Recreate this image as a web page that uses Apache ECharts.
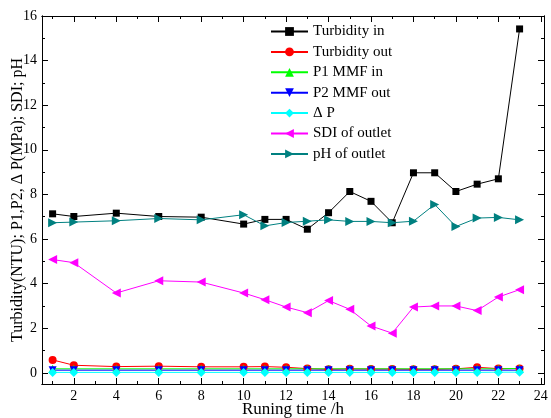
<!DOCTYPE html>
<html><head><meta charset="utf-8">
<script src="https://cdn.jsdelivr.net/npm/echarts@6/dist/echarts.min.js"></script>
<style>html,body{margin:0;padding:0;background:#fff}#c{width:551px;height:418px}</style>
</head><body><div id="c"></div>
<script>
const hours = [1,2,4,6,8,10,11,12,13,14,15,16,17,18,19,20,21,22,23];
const turbidityIn  = [7.13,7.01,7.16,7.01,6.98,6.67,6.88,6.88,6.44,7.18,8.13,7.69,6.73,8.97,8.97,8.13,8.46,8.70,15.42];
const turbidityOut = [0.58,0.34,0.28,0.30,0.27,0.27,0.28,0.25,0.19,0.16,0.18,0.17,0.17,0.16,0.16,0.18,0.25,0.19,0.19];
const p1In   = [0.18,0.18,0.18,0.18,0.18,0.18,0.18,0.18,0.18,0.18,0.18,0.18,0.18,0.18,0.18,0.18,0.18,0.18,0.20];
const p2Out  = [0.12,0.12,0.12,0.12,0.12,0.12,0.12,0.12,0.12,0.12,0.12,0.12,0.12,0.12,0.12,0.12,0.12,0.12,0.12];
const deltaP = [0.02,0.02,0.02,0.02,0.02,0.02,0.02,0.02,0.02,0.02,0.02,0.02,0.02,0.02,0.02,0.02,0.02,0.03,0.03];
const sdi    = [5.08,4.94,3.58,4.13,4.07,3.58,3.28,2.95,2.70,3.24,2.85,2.10,1.78,2.95,3.00,3.00,2.79,3.40,3.73];
const ph     = [6.73,6.76,6.82,6.92,6.86,7.09,6.59,6.74,6.80,6.86,6.79,6.79,6.73,6.80,7.55,6.56,6.94,6.97,6.86];
const xMajor = [2,4,6,8,10,12,14,16,18,20,22,24];
const xMinor = [1,3,5,7,9,11,13,15,17,19,21,23];
const yMajor = [0,2,4,6,8,10,12,14,16];
const yMinor = [1,3,5,7,9,11,13,15];

const FONT = "'Liberation Serif','Times New Roman',serif";
const X = {min:0.5, max:24.15}, Y = {min:-0.5, max:16};
function xa(grid, pos, ticks, len, labels){
  return {type:'value', gridIndex:grid, position:pos, min:X.min, max:X.max, splitLine:{show:false},
    axisLine:{show:true, onZero:false, lineStyle:{color:'#000',width:1}},
    axisTick:{show:true, inside:true, length:len, customValues:ticks, lineStyle:{color:'#000',width:1}},
    axisLabel:{show:labels, customValues:ticks, color:'#000', fontFamily:FONT, fontSize:14, margin:5},
    name: labels ? 'Runing time /h' : '', nameLocation:'middle', nameGap:17, nameMoveOverlap:false,
    nameTextStyle:{color:'#000', fontFamily:FONT, fontSize:17}};
}
function ya(grid, pos, ticks, len, labels){
  return {type:'value', gridIndex:grid, position:pos, min:Y.min, max:Y.max, splitLine:{show:false},
    axisLine:{show:true, onZero:false, lineStyle:{color:'#000',width:1}},
    axisTick:{show:true, inside:true, length:len, customValues:ticks, lineStyle:{color:'#000',width:1}},
    axisLabel:{show:labels, customValues:ticks, color:'#000', fontFamily:FONT, fontSize:14, margin:5},
    name: labels ? 'Turbidity(NTU); P1,P2, \u0394 P(MPa); SDI; pH' : '', nameLocation:'middle', nameGap:16, nameMoveOverlap:false,
    nameTextStyle:{color:'#000', fontFamily:FONT, fontSize:16}};
}
function mk(vals){ return hours.map((h,i)=>[h, vals[i]]); }
const triDown = 'path://M0,0 L10,0 L5,10 Z';
const triLeft = 'path://M10,0 L10,10 L0,5 Z';
const triRight = 'path://M0,0 L10,5 L0,10 Z';
function s(name, data, color, symbol, size){
  return {name, type:'line', xAxisIndex:0, yAxisIndex:0, data:mk(data), symbol, symbolSize:size,
    showAllSymbol:true, lineStyle:{color, width:1}, itemStyle:{color}, emphasis:{disabled:true}, z:2};
}
const G = {left:42, right:7, top:16, bottom:34, containLabel:false, outerBoundsMode:'none'};
const chart = echarts.init(document.getElementById('c'), null, {renderer:'canvas'});
chart.setOption({
  animation:false,
  grid:[Object.assign({}, G), Object.assign({}, G)],
  xAxis:[xa(0,'bottom', xMajor, 6, true), xa(0,'top', xMajor, 6, false), xa(1,'bottom', xMinor, 3, false), xa(1,'top', xMinor, 3, false)],
  yAxis:[ya(0,'left', yMajor, 6, true), ya(0,'right', yMajor, 6, false), ya(1,'left', yMinor, 3, false), ya(1,'right', yMinor, 3, false)],
  legend:{orient:'vertical', left:270, top:24, padding:0, itemWidth:37, itemHeight:11, itemGap:5.4,
    textStyle:{color:'#000', fontFamily:FONT, fontSize:15, padding:[0,0,0,0]},
    data:['Turbidity in','Turbidity out','P1 MMF in','P2 MMF out','\u0394 P','SDI of outlet','pH of outlet']},
  series:[
    s('Turbidity in', turbidityIn, '#000000', 'rect', 7),
    s('Turbidity out', turbidityOut, '#ff0000', 'circle', 8),
    s('P1 MMF in', p1In, '#00ff00', 'triangle', 8),
    s('P2 MMF out', p2Out, '#0000ff', triDown, 8),
    s('\u0394 P', deltaP, '#00ffff', 'diamond', 9),
    s('SDI of outlet', sdi, '#ff00ff', triLeft, 9),
    s('pH of outlet', ph, '#008080', triRight, 9)
  ]
});
</script></body></html>
